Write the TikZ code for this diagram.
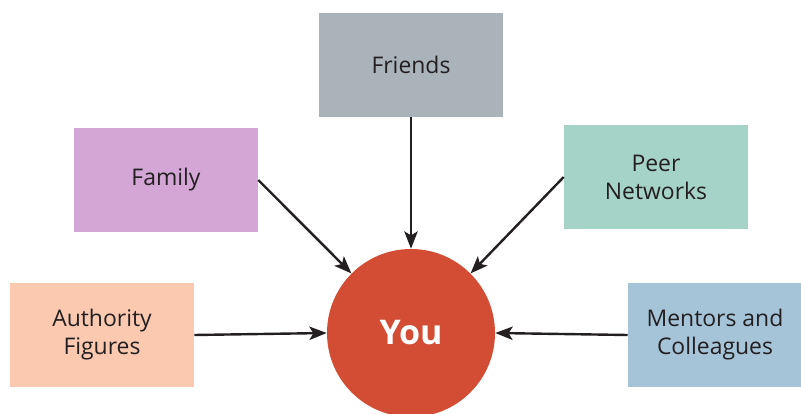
\documentclass[tikz,border=0pt]{standalone}
\usepackage{fontspec}
\setmainfont{Open Sans}
\usetikzlibrary{arrows.meta}
\definecolor{friendsgray}{RGB}{171,179,186}
\definecolor{familylilac}{RGB}{211,166,214}
\definecolor{peermint}{RGB}{165,211,199}
\definecolor{authpeach}{RGB}{250,201,176}
\definecolor{mentorblue}{RGB}{166,196,216}
\definecolor{youred}{RGB}{211,76,52}
\definecolor{arrowdark}{RGB}{35,31,32}
\tikzset{
  groupbox/.style={rectangle, draw=none, minimum width=138pt, minimum height=78pt,
    align=center, text=arrowdark, font=\fontsize{17.2}{21}\selectfont},
  youcircle/.style={circle, draw=none, fill=youred, minimum size=126pt,
    text=white, font=\bfseries\fontsize{25.5}{30}\selectfont},
  influence/.style={color=arrowdark, line width=1.8, -{Stealth[length=13pt,width=10pt,inset=3pt]}}
}
\begin{document}
\begin{tikzpicture}[x=0.75pt,y=0.75pt,yscale=-1,xscale=1]
\useasboundingbox (0,0) rectangle (801,414);

%Shape: Circle [id:you]
\node [youcircle] (you) at (411,333) {You};
%Shape: Rectangle [id:friends]
\node [groupbox, fill=friendsgray] (friends) at (411,65) {Friends};
%Shape: Rectangle [id:family]
\node [groupbox, fill=familylilac] (family) at (166,180) {Family};
%Shape: Rectangle [id:peer]
\node [groupbox, fill=peermint] (peer) at (656,177) {Peer\\Networks};
%Shape: Rectangle [id:authority]
\node [groupbox, fill=authpeach] (authority) at (102,335) {Authority\\Figures};
%Shape: Rectangle [id:mentors]
\node [groupbox, fill=mentorblue, minimum width=130.5pt] (mentors) at (715,335) {Mentors and\\Colleagues};

%Straight Lines [id:friends-you]
\draw [influence] (friends.south) -- (you.north) ;
%Straight Lines [id:family-you]
\draw [influence] (family.east) -- (you.135) ;
%Straight Lines [id:peer-you]
\draw [influence] (peer.west) -- (you.45) ;
%Straight Lines [id:authority-you]
\draw [influence] (authority.east) -- (you.west) ;
%Straight Lines [id:mentors-you]
\draw [influence] (mentors.west) -- (you.east) ;

\end{tikzpicture}
\end{document}
